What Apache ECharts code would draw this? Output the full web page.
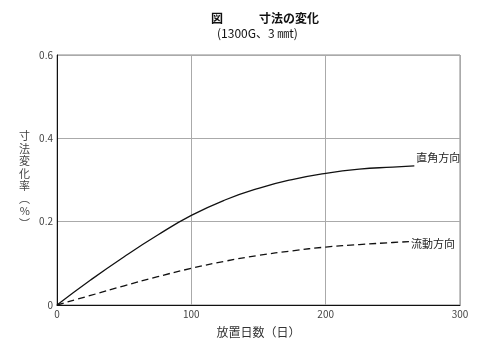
<!DOCTYPE html>
<html><head><meta charset="utf-8">
<script src="https://cdn.jsdelivr.net/npm/echarts@6/dist/echarts.min.js"></script>
<style>html,body{margin:0;padding:0;background:#fff}#c{width:500px;height:351px}</style>
</head><body><div id="c"></div>
<script>
const titleText = '図　　　寸法の変化';
const subtitleText = '(1300G、3 ㎜t)';
const xName = '放置日数（日）';
const yName = ['寸', '法', '変', '化', '率', '︵', '%', '︶'];
const yTicks = [0, 0.2, 0.4, 0.6];
const xTicks = [0, 100, 200, 300];
const perpName = '直角方向';
const perpDays = [0, 25, 50, 75, 100, 125, 150, 175, 200, 225, 250, 266];
const perpVals = [0, 0.060, 0.116, 0.168, 0.215, 0.252, 0.280, 0.301, 0.316, 0.326, 0.331, 0.334];
const flowName = '流動方向';
const flowDays = [0, 25, 50, 75, 100, 125, 150, 175, 200, 225, 250, 262];
const flowVals = [0, 0.023, 0.046, 0.068, 0.088, 0.105, 0.119, 0.130, 0.139, 0.145, 0.150, 0.152];

const font = '"Noto Sans CJK JP", "Noto Sans", sans-serif';
const chart = echarts.init(document.getElementById('c'));
chart.setOption({
  animation: false,
  backgroundColor: '#fff',
  textStyle: { fontFamily: font },
  title: [
    { text: titleText, left: 206, top: 7,
      textStyle: { fontSize: 12, fontWeight: 'bold', color: '#111', fontFamily: font } },
    { text: subtitleText, left: 212, top: 22,
      textStyle: { fontSize: 12, fontWeight: 'normal', color: '#111', fontFamily: font } }
  ],
  grid: { left: 57, right: 40, top: 55, bottom: 46, show: true, borderColor: '#888', borderWidth: 1 },
  xAxis: {
    type: 'value', min: 0, max: 300, interval: 100,
    name: xName, nameLocation: 'middle', nameGap: 21,
    nameTextStyle: { fontSize: 12, color: '#333', fontFamily: font },
    axisLine: { show: true, lineStyle: { color: '#111', width: 1 } },
    axisTick: { show: false },
    axisLabel: { fontSize: 10, color: '#444', margin: 4, formatter: v => xTicks.includes(v) ? String(v) : '' },
    splitLine: { show: true, lineStyle: { color: '#aaa', width: 1 } }
  },
  yAxis: {
    type: 'value', min: 0, max: 0.6, interval: 0.2,
    name: yName.join('\n'), nameLocation: 'middle', nameGap: 27, nameRotate: 0,
    nameTextStyle: { fontSize: 11, color: '#444', lineHeight: 12.5, fontFamily: font },
    axisLine: { show: true, lineStyle: { color: '#111', width: 1 } },
    axisTick: { show: false },
    axisLabel: { fontSize: 10, color: '#444', margin: 4,
      formatter: v => { const t = yTicks.find(y => Math.abs(y - v) < 1e-9); return t === undefined ? '' : (t === 0 ? '0' : t.toFixed(1)); } },
    splitLine: { show: true, lineStyle: { color: '#aaa', width: 1 } }
  },
  series: [
    {
      name: perpName, type: 'line', smooth: true, symbol: 'none',
      data: perpDays.map((d, i) => [d, perpVals[i]]),
      lineStyle: { color: '#111', width: 1.3, type: 'solid' },
      endLabel: { show: true, formatter: perpName, fontSize: 11, color: '#222', offset: [-6, -8], fontFamily: font }
    },
    {
      name: flowName, type: 'line', smooth: true, symbol: 'none',
      data: flowDays.map((d, i) => [d, flowVals[i]]),
      lineStyle: { color: '#111', width: 1.3, type: [7, 4] },
      endLabel: { show: true, formatter: flowName, fontSize: 11, color: '#222', offset: [-6, 2], fontFamily: font }
    }
  ]
});
</script></body></html>
